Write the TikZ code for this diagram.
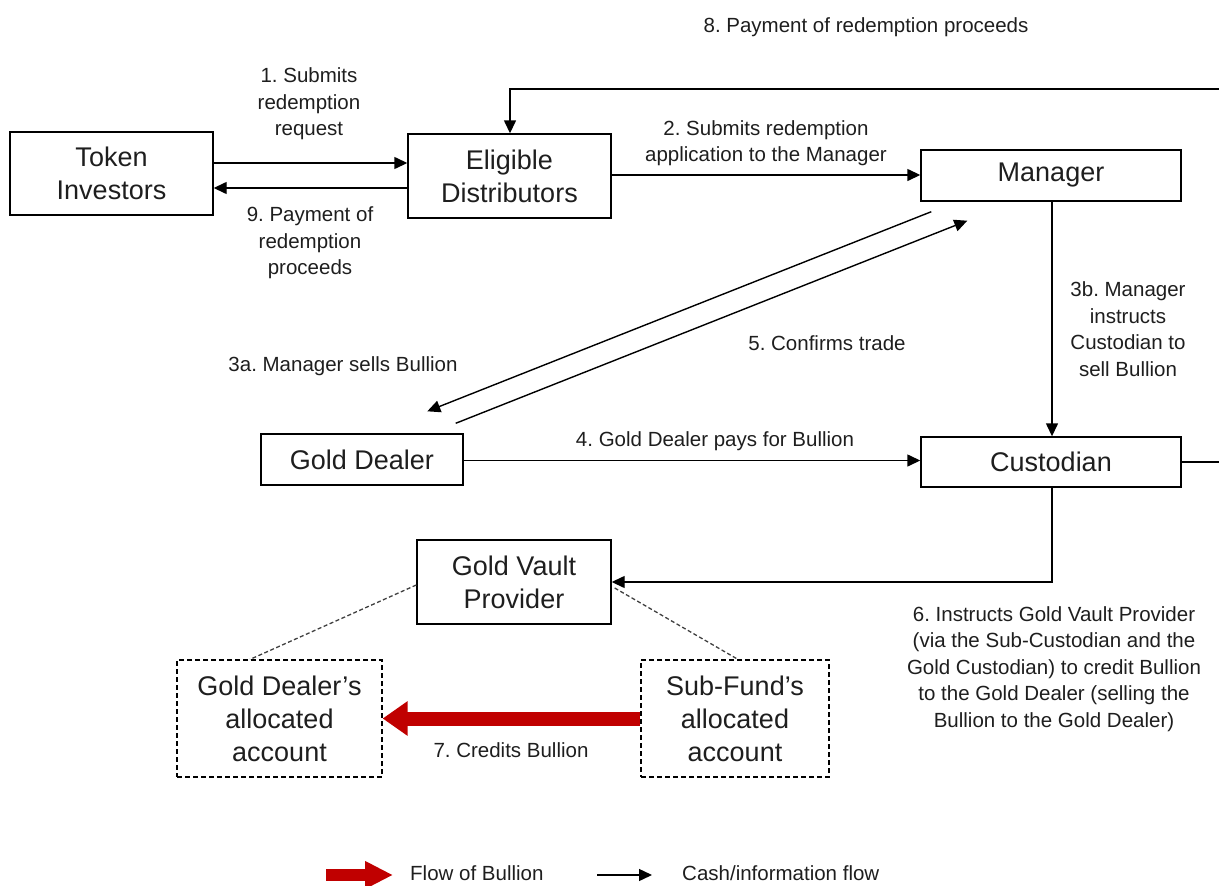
\documentclass[tikz,border=0pt]{standalone}
\usepackage{fontspec}
\setmainfont{Liberation Sans}
\usetikzlibrary{arrows.meta,calc}
\definecolor{bred}{HTML}{C00000}
\definecolor{ink}{HTML}{1E1E1E}
\frenchspacing
\begin{document}
\begin{tikzpicture}[x=1pt,y=-1pt,
  box/.style={draw,line width=1.4pt,align=center,inner sep=0pt,text=ink,font=\fontsize{27}{33}\selectfont},
  dbox/.style={box,dash pattern=on 5pt off 3pt,line width=1.2pt},
  lbl/.style={align=center,inner sep=0pt,text=ink,font=\fontsize{20.5}{26.5}\selectfont},
  arr/.style={line width=1.4pt,-{Triangle[length=13pt,width=12pt]}},
  dots/.style={line width=1.3pt,dash pattern=on 4pt off 2.5pt,black!75},
  redarr/.style={bred,line width=14pt,-{Triangle[length=25pt,width=33pt]}}]
\useasboundingbox (0,0) rectangle (1219,886);
\clip (0,0) rectangle (1219,886);

% boxes
\node[box,minimum width=203pt,minimum height=83pt] (ti) at (111.5,173.5) {Token\\Investors};
\node[box,minimum width=203pt,minimum height=84pt] (ed) at (509.5,176) {Eligible\\Distributors};
\node[box,minimum width=260pt,minimum height=51pt] (mgr) at (1051,175.5) {Manager};
\node[box,minimum width=260pt,minimum height=50pt] (cust) at (1051,462) {Custodian};
\node[box,minimum width=202pt,minimum height=51pt] (gd) at (362,459.5) {Gold Dealer};
\node[box,minimum width=194pt,minimum height=84pt] (gvp) at (514,582) {Gold Vault\\Provider};
\node[dbox,minimum width=205pt,minimum height=117pt] (gda) at (279.5,718.5) {Gold Dealer’s\\allocated\\account};
\node[dbox,minimum width=188pt,minimum height=117pt] (sfa) at (735,718.5) {Sub-Fund’s\\allocated\\account};

% connectors
\draw[arr] (ti.east |- 0,163) -- (ed.west |- 0,163);
\draw[arr] (ed.west |- 0,188) -- (ti.east |- 0,188);
\draw[arr] (ed.east |- 0,175) -- (mgr.west |- 0,175);
\draw[arr] (cust.east) -- (1240,462) -- (1240,89) -- (510,89) -- (ed.north -| 510,0);
\draw[arr] ($(mgr.south west)+(11,10)$) -- ($(gd.north west)+(167,-22)$);
\draw[arr] ($(gd.north east)+(-8,-10)$) -- ($(mgr.south west)+(47,19)$);
\draw[arr] (mgr.south -| 1052,0) -- (cust.north -| 1052,0);
\draw[arr] (gd.east |- 0,460.5) -- (cust.west |- 0,460.5);
\draw[arr] (cust.south -| 1052,0) -- (1052,582) -- (gvp.east |- 0,582);
\draw[dots] ($(gvp.west)+(0,3)$) -- (gda.north -| 250,0);
\draw[dots] ($(gvp.east)+(3,6)$) -- (sfa.north -| 738,0);
\draw[redarr] (sfa.west) -- (gda.east);

% labels
\node[lbl] (l8) at (866,27) {8. Payment of redemption proceeds};
\node[lbl] (l1) at (309,104) {1. Submits\\redemption\\request};
\node[lbl] (l9) at (310,243) {9. Payment of\\redemption\\proceeds};
\node[lbl] (l2) at (766,143) {2. Submits redemption\\application to the Manager};
\node[lbl] (l3a) at (343,366) {3a. Manager sells Bullion};
\node[lbl] (l5) at (827,343) {5. Confirms trade};
\node[lbl] (l3b) at (1128,329) {3b. Manager\\instructs\\Custodian to\\sell Bullion};
\node[lbl] (l4) at (715,441) {4. Gold Dealer pays for Bullion};
\node[lbl] (l6) at (1054,669) {6. Instructs Gold Vault Provider\\(via the Sub-Custodian and the\\Gold Custodian) to credit Bullion\\to the Gold Dealer (selling the\\Bullion to the Gold Dealer)};
\node[lbl] (l7) at (511,750) {7. Credits Bullion};

% legend
\coordinate (r1) at (326,875);
\coordinate (r2) at (393,875);
\draw[bred,line width=12pt,-{Triangle[length=28pt,width=26pt]}] (r1) -- (r2);
\node[lbl,anchor=west] (lg1) at (410,873) {Flow of Bullion};
\coordinate (b1) at (597,875);
\coordinate (b2) at (652,875);
\draw[arr] (b1) -- (b2);
\node[lbl,anchor=west] (lg2) at (682,873) {Cash/information flow};
\end{tikzpicture}
\end{document}
